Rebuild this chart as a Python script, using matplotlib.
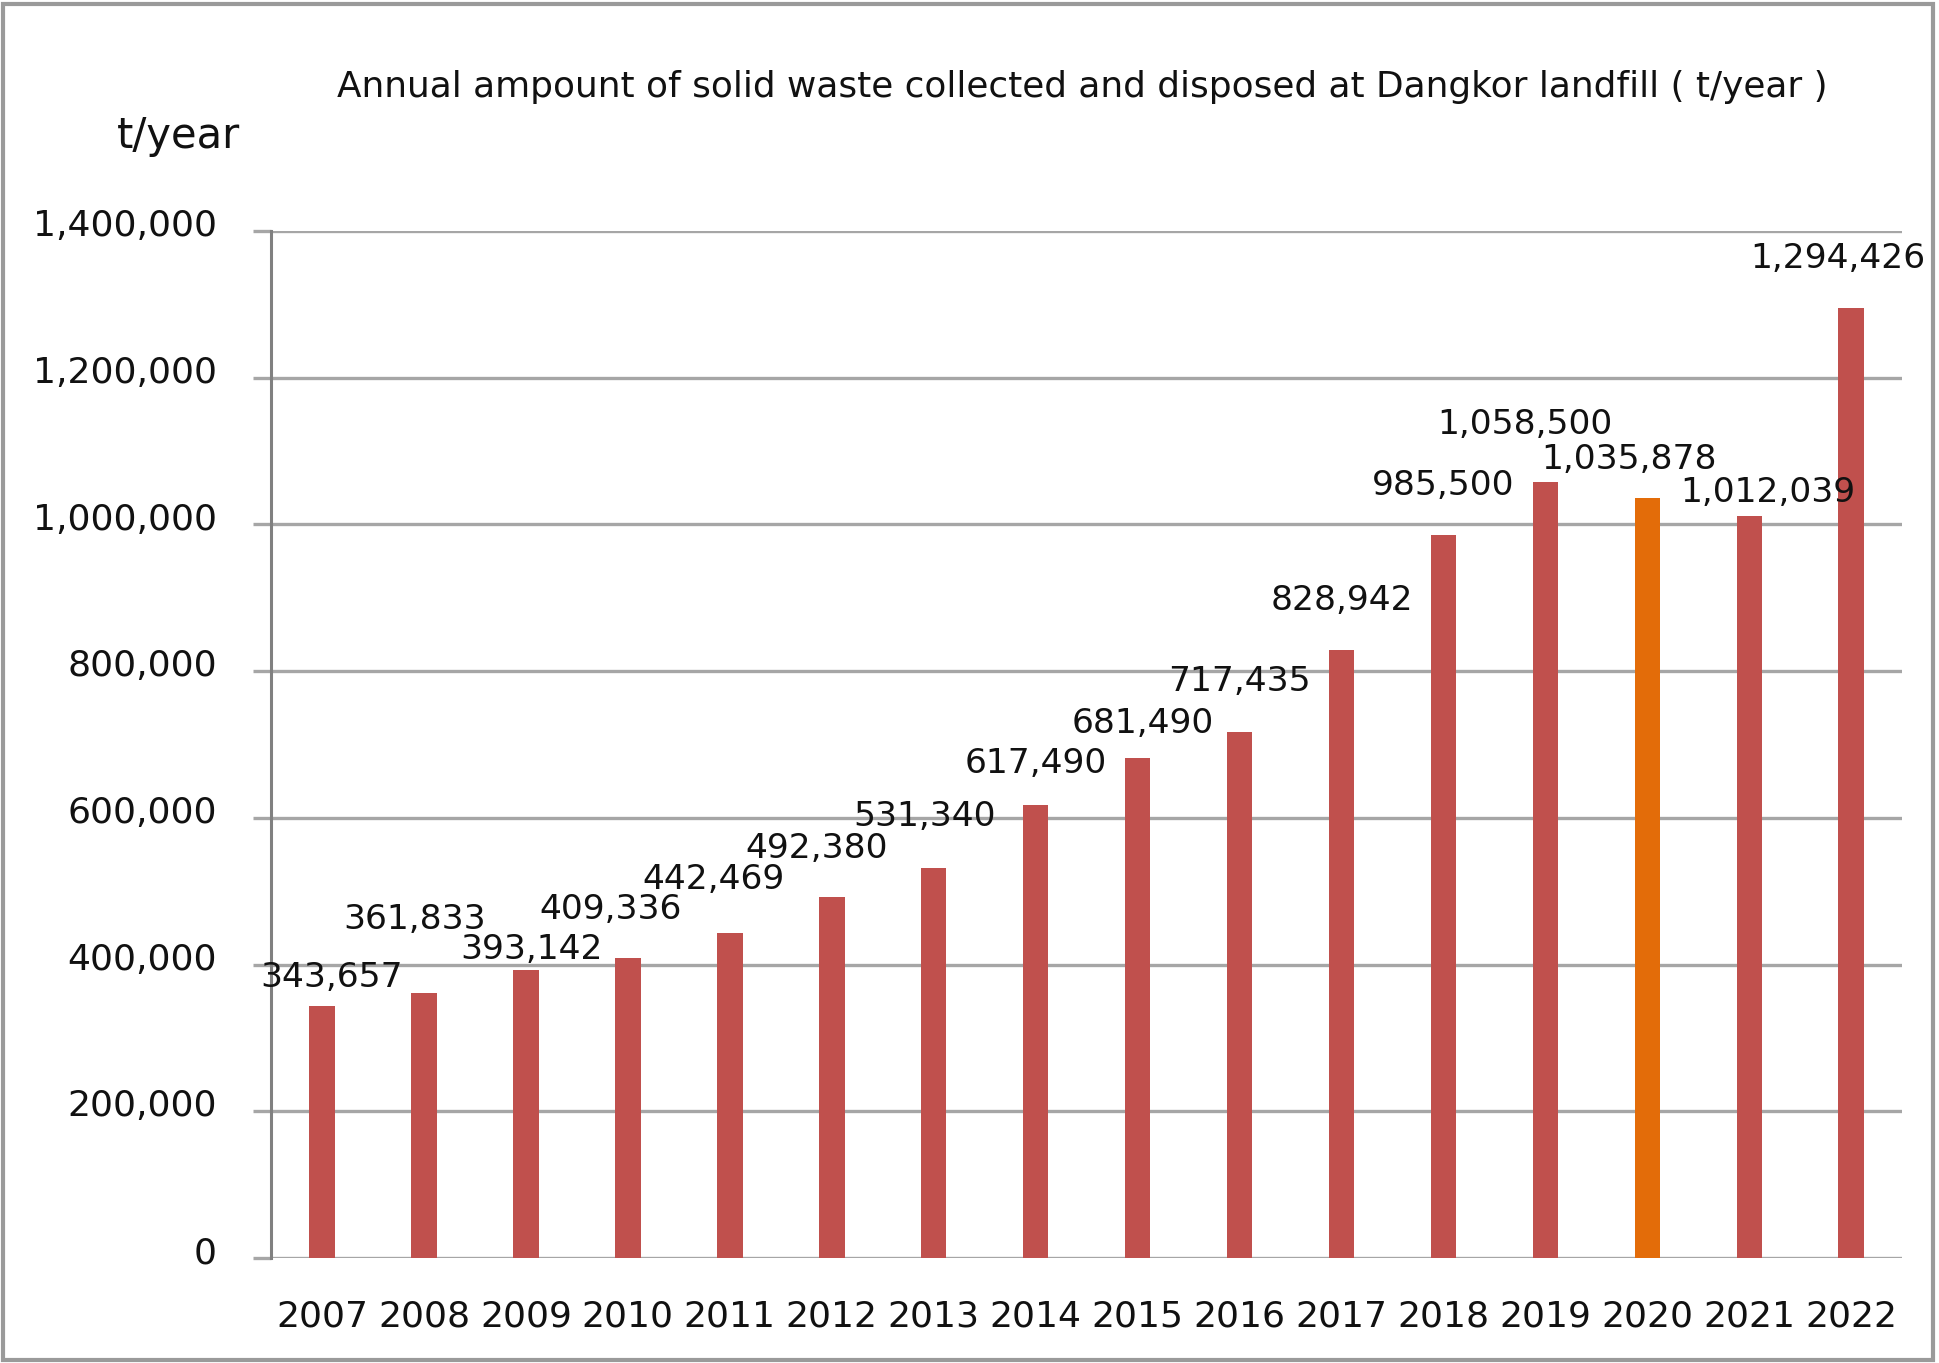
import matplotlib
matplotlib.use("Agg")
import matplotlib.pyplot as plt
import matplotlib.transforms as mtransforms
from matplotlib.patches import Rectangle

years = ["2007", "2008", "2009", "2010", "2011", "2012", "2013", "2014",
         "2015", "2016", "2017", "2018", "2019", "2020", "2021", "2022"]
amounts = [343657, 361833, 393142, 409336, 442469, 492380, 531340, 617490,
           681490, 717435, 828942, 985500, 1058500, 1035878, 1012039, 1294426]
highlight_year = "2020"
yticks = [0, 200000, 400000, 600000, 800000, 1000000, 1200000, 1400000]

# label placement offsets (category units, value units)
label_dx = [0.09, -0.09, 0.06, -0.17, -0.16, -0.15, -0.09, 0.0,
            0.05, 0.0, 0.0, 0.0, -0.2, -0.18, 0.18, -0.13]
label_dy = [39000, 100000, 27000, 66000, 74000, 66000, 71000, 57000,
            47000, 69000, 67000, 67000, 78000, 52000, 32000, 68000]

RED = "#C0504D"
ORANGE = "#E36C09"
GRID = "#a6a6a6"
TXT = "#111111"

fig = plt.figure(figsize=(19.39, 13.63), dpi=100)
ax = fig.add_axes([0.1398, 0.077, 0.981 - 0.1398, 0.8305 - 0.077])

x = list(range(len(years)))
colors = [ORANGE if y == highlight_year else RED for y in years]
ax.bar(x, amounts, width=0.25, color=colors, zorder=3)

for i, v in enumerate(amounts):
    ax.text(i + label_dx[i], v + label_dy[i], f"{v:,}", ha="center", va="center",
            fontsize=24.8, color=TXT, zorder=4)

ax.set_xlim(-0.5, len(years) - 0.5)
ax.set_ylim(0, 1400000)
ax.set_yticks(yticks)
ax.set_yticklabels([f"{t:,}" for t in yticks], fontsize=26, color=TXT)
ax.set_xticks(x)
ax.set_xticklabels(years, fontsize=26, color=TXT)
ax.tick_params(axis="x", length=0, pad=30)
ax.tick_params(axis="y", length=13, width=2.4, color=GRID, pad=26)
ax.yaxis.grid(True, color=GRID, linewidth=2.4, zorder=0)
ax.set_axisbelow(True)
for s in ["top", "right", "bottom"]:
    ax.spines[s].set_visible(False)
ax.spines["left"].set_color("#808080")
ax.spines["left"].set_linewidth(2.2)
ax.spines["left"].set_zorder(2)

# y tick labels sit slightly above their gridlines
shift = mtransforms.ScaledTranslation(0, 6 / 72, fig.dpi_scale_trans)
for lab in ax.get_yticklabels():
    lab.set_transform(lab.get_transform() + shift)

fig.text(0.558, 0.936, "Annual ampount of solid waste collected and disposed at Dangkor landfill ( t/year )",
         ha="center", va="center", fontsize=25.8, color=TXT)
fig.text(0.092, 0.90, "t/year", ha="center", va="center", fontsize=30, color=TXT)

fig.patches.append(Rectangle((0.0015, 0.002), 0.9955, 0.995, transform=fig.transFigure,
                             fill=False, edgecolor="#9a9a9a", linewidth=3))

fig.savefig("out.png", dpi=100, facecolor="white")
